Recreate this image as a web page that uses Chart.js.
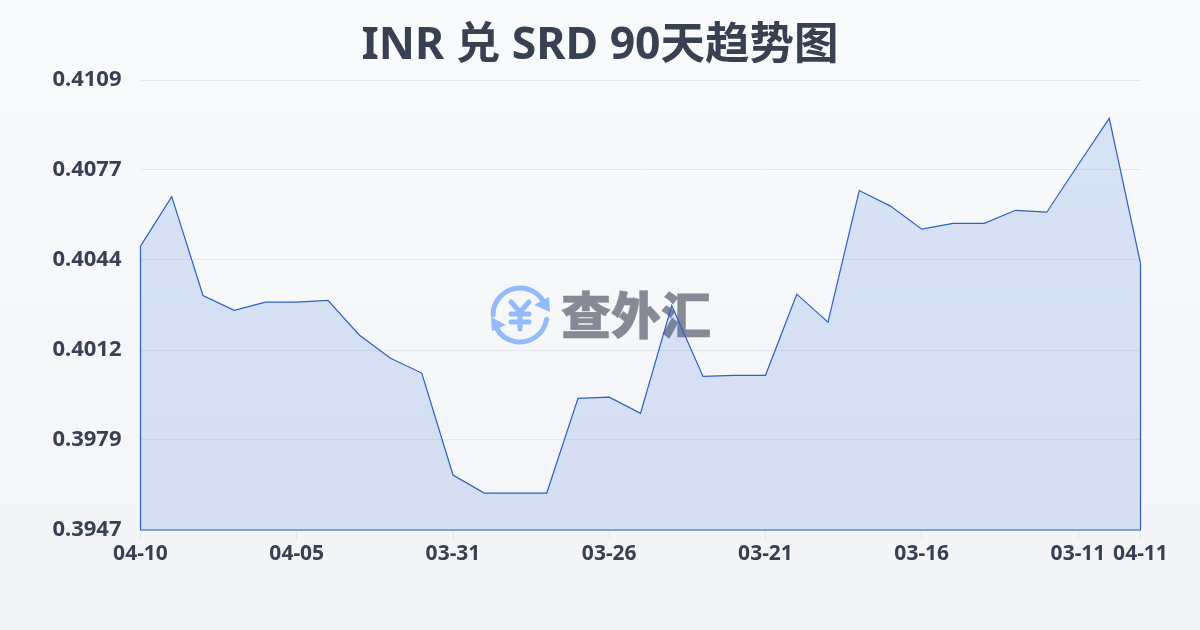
<!DOCTYPE html>
<html>
<head>
<meta charset="utf-8">
<title>INR 兑 SRD 90天趋势图</title>
<script src="https://cdn.jsdelivr.net/npm/chart.js@4"></script>
<style>
    html, body { margin: 0; padding: 0; }
    body { width: 1200px; height: 630px; overflow: hidden; background: linear-gradient(180deg, #f8fafc 0%, #f3f4f7 100%); }
    canvas { display: block; }
</style>
</head>
<body>
<canvas id="chart1" width="1200" height="630"></canvas>
<script>
var dates = [
    '04-10', '04-09', '04-08', '04-07', '04-06', '04-05', '04-04', '04-03', '04-02', '04-01', '03-31',
    '03-30', '03-29', '03-28', '03-27', '03-26', '03-25', '03-24', '03-23', '03-22', '03-21',
    '03-20', '03-19', '03-18', '03-17', '03-16', '03-15', '03-14', '03-13', '03-12', '03-11',
    '03-10', '04-11'
];
var rates = [
    0.40492, 0.40670, 0.40314, 0.40261, 0.40290, 0.40290, 0.40297, 0.40172, 0.40088, 0.40035, 0.39668,
    0.39603, 0.39603, 0.39603, 0.39944, 0.39948, 0.39890, 0.40278, 0.40023, 0.40027, 0.40027,
    0.40319, 0.40218, 0.40692, 0.40636, 0.40553, 0.40574, 0.40574, 0.40621, 0.40614, 0.40784,
    0.40952, 0.40430
];
var xTickLabels = ['04-10', '04-05', '03-31', '03-26', '03-21', '03-16', '03-11', '04-11'];
var yTickValues = [0.3947, 0.39794, 0.40118, 0.40442, 0.40766, 0.4109];

var textColor = '#374151';
var lineColor = '#2b60c4';
var gridColor = '#e4e7ed';
var fontStack = '"Noto Sans", "Noto Sans CJK SC"';

// watermark goes under the fill, so it is drawn before the datasets
var watermark = {
    id: 'watermark',
    beforeDatasetsDraw: function(chart) {
        var c = chart.ctx;
        var cx = 520, cy = 315, r = 27;
        c.save();
        c.strokeStyle = '#93bbfb';
        c.fillStyle = '#93bbfb';
        c.lineWidth = 5;
        c.lineCap = 'round';
        c.beginPath();
        c.arc(cx, cy, r, Math.PI * 1.0, Math.PI * 1.85);
        c.stroke();
        c.beginPath();
        c.arc(cx, cy, r, Math.PI * 0.05, Math.PI * 0.85);
        c.stroke();
        c.beginPath();
        c.moveTo(549, 297); c.lineTo(550, 312); c.lineTo(534, 305); c.closePath();
        c.fill();
        c.beginPath();
        c.moveTo(491, 317); c.lineTo(492, 331); c.lineTo(506, 325); c.closePath();
        c.fill();
        // yen sign
        c.lineWidth = 5;
        c.beginPath();
        c.moveTo(511, 302); c.lineTo(520, 312); c.lineTo(529, 302);
        c.moveTo(520, 312); c.lineTo(520, 329);
        c.moveTo(511, 314); c.lineTo(529, 314);
        c.moveTo(511, 322); c.lineTo(529, 322);
        c.stroke();
        c.fillStyle = '#858a94';
        c.strokeStyle = '#858a94';
        c.lineWidth = 0.6;
        c.lineCap = 'butt';
        c.font = '900 50px "Noto Sans CJK SC"';
        c.textAlign = 'left';
        c.textBaseline = 'middle';
        c.fillText('查外汇', 561, 315);
        c.strokeText('查外汇', 561, 315);
        c.restore();
    }
};

// the area has an outline on the sides and the bottom as well
var areaOutline = {
    id: 'areaOutline',
    afterDatasetsDraw: function(chart) {
        var pts = chart.getDatasetMeta(0).data;
        var first = pts[0], last = pts[pts.length - 1];
        var bottom = chart.chartArea.bottom;
        var c = chart.ctx;
        c.save();
        c.strokeStyle = lineColor;
        c.lineWidth = 1.2;
        c.beginPath();
        c.moveTo(first.x, first.y);
        c.lineTo(first.x, bottom);
        c.lineTo(last.x, bottom);
        c.lineTo(last.x, last.y);
        c.stroke();
        c.restore();
    }
};

var chart1Ctx = document.getElementById('chart1').getContext('2d');
var chart1 = new Chart(chart1Ctx, {
    type: 'line',
    data: {
        labels: dates,
        datasets: [{
            label: 'INR/SRD',
            data: rates,
            borderColor: lineColor,
            borderWidth: 1.2,
            backgroundColor: 'rgba(38, 95, 218, 0.15)',
            fill: true,
            tension: 0,
            pointRadius: 0
        }]
    },
    options: {
        responsive: false,
        animation: false,
        plugins: {
            legend: { display: false },
            tooltip: { enabled: false },
            title: {
                display: true,
                text: 'INR 兑 SRD 90天趋势图',
                color: textColor,
                font: { family: fontStack, size: 44.5, weight: 'bold', lineHeight: 1.2 },
                padding: { top: 20, bottom: 6.6 }
            }
        },
        scales: {
            x: {
                grid: { color: gridColor, drawOnChartArea: false, tickLength: 10, tickColor: gridColor },
                border: { display: false },
                ticks: {
                    color: textColor,
                    font: { family: fontStack, size: 21, weight: 'bold' },
                    padding: 1,
                    autoSkip: false,
                    maxRotation: 0
                },
                afterBuildTicks: function(axis) {
                    axis.ticks = axis.ticks.filter(function(t) {
                        return xTickLabels.indexOf(dates[t.value]) >= 0;
                    });
                },
                afterFit: function(axis) {
                    axis.height = 100;
                    axis.paddingRight = 59.5;
                }
            },
            y: {
                min: yTickValues[0],
                max: yTickValues[yTickValues.length - 1],
                grid: { color: gridColor, drawTicks: false },
                border: { display: false },
                ticks: {
                    color: textColor,
                    font: { family: fontStack, size: 22, weight: 'bold' },
                    padding: 19,
                    autoSkip: false,
                    callback: function(v) { return v.toFixed(4); }
                },
                afterBuildTicks: function(axis) {
                    axis.ticks = yTickValues.map(function(v) { return { value: v }; });
                },
                afterFit: function(axis) { axis.width = 140.5; }
            }
        }
    },
    plugins: [watermark, areaOutline]
});
</script>
</body>
</html>
